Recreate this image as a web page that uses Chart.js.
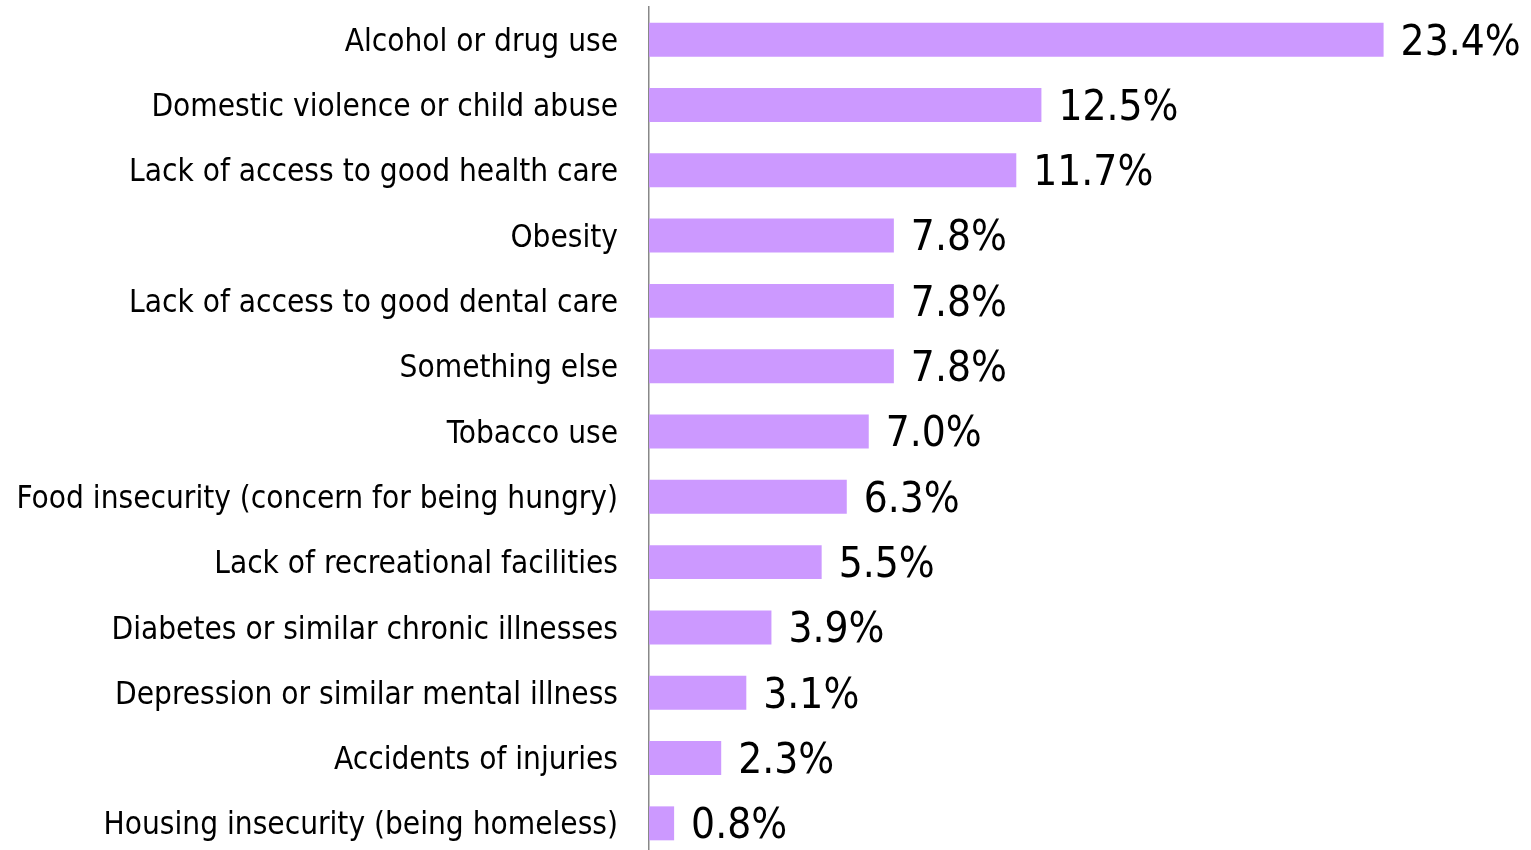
<!DOCTYPE html>
<html><head><meta charset="utf-8">
<script src="https://cdn.jsdelivr.net/npm/chart.js@4/dist/chart.umd.min.js"></script>
<style>html,body{margin:0;padding:0;background:#fff;overflow:hidden;}#wrap{width:1531px;height:857px;}</style>
</head><body><div id="wrap"><canvas id="c" width="1531" height="857"></canvas></div>
<script>
const categories = [
  "Alcohol or drug use",
  "Domestic violence or child abuse",
  "Lack of access to good health care",
  "Obesity",
  "Lack of access to good dental care",
  "Something else",
  "Tobacco use",
  "Food insecurity (concern for being hungry)",
  "Lack of recreational facilities",
  "Diabetes or similar chronic illnesses",
  "Depression or similar mental illness",
  "Accidents of injuries",
  "Housing insecurity (being homeless)"
];
const values = [23.4, 12.5, 11.7, 7.8, 7.8, 7.8, 7.0, 6.3, 5.5, 3.9, 3.1, 2.3, 0.8];
const valueLabels = ["23.4%","12.5%","11.7%","7.8%","7.8%","7.8%","7.0%","6.3%","5.5%","3.9%","3.1%","2.3%","0.8%"];

const FONT = "'DejaVu Sans Condensed', 'DejaVu Sans', sans-serif";

const valuePlugin = {
  id: 'valueLabels',
  afterDatasetsDraw(chart) {
    const ctx = chart.ctx;
    const meta = chart.getDatasetMeta(0);
    ctx.save();
    ctx.font = "42px " + FONT;
    ctx.fillStyle = "#000";
    ctx.textAlign = "left";
    ctx.textBaseline = "middle";
    meta.data.forEach((bar, i) => {
      ctx.fillText(valueLabels[i], bar.x + 17, bar.y + 4);
    });
    ctx.restore();
  }
};

new Chart(document.getElementById('c'), {
  type: 'bar',
  data: {
    labels: categories,
    datasets: [{
      data: values,
      backgroundColor: '#cc99ff',
      borderWidth: 0,
      categoryPercentage: 1,
      barPercentage: 0.52
    }]
  },
  options: {
    indexAxis: 'y',
    responsive: false,
    animation: false,
    events: [],
    layout: { padding: { top: 7, bottom: 1, left: 0, right: 3 } },
    plugins: { legend: { display: false }, tooltip: { enabled: false } },
    scales: {
      x: { display: false, min: 0, max: 28 },
      y: {
        grid: { display: false, drawTicks: false },
        border: { display: true, color: '#888888', width: 1.5 },
        ticks: { color: '#000', padding: 31, labelOffset: 3, font: { family: FONT, size: 31.3 } },
        afterFit(s) { s.width = 649; s.paddingTop = 0; s.paddingBottom = 0; }
      }
    }
  },
  plugins: [valuePlugin]
});
</script>
</body></html>
